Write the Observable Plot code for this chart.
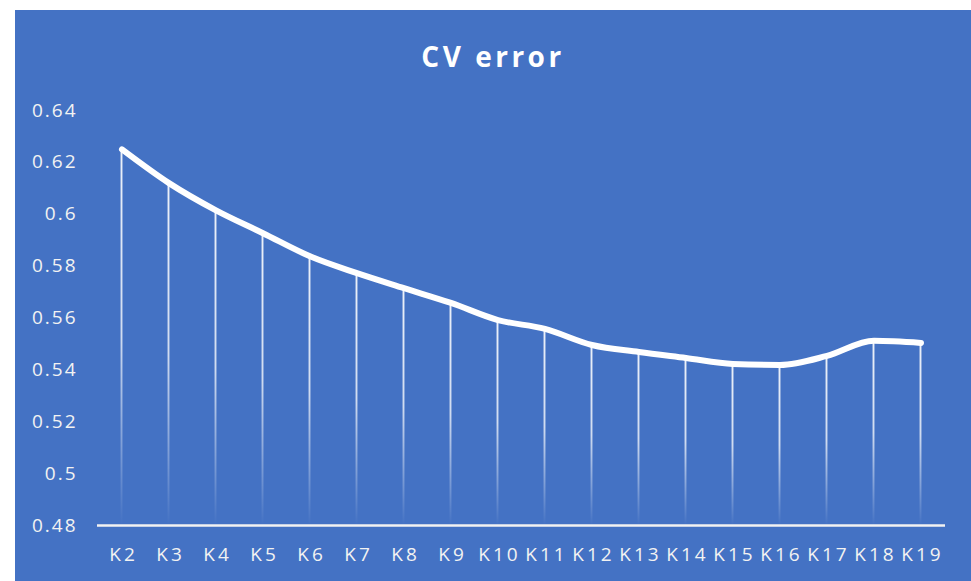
<!DOCTYPE html>
<html>
<head>
<meta charset="utf-8">
<script src="https://cdn.jsdelivr.net/npm/d3@7"></script>
<script src="https://cdn.jsdelivr.net/npm/@observablehq/plot@0.6"></script>
<style>
  html, body { margin: 0; padding: 0; background: #ffffff; }
  #panel { position: absolute; left: 15px; top: 10px; width: 956px; height: 571px; background: #4472C4; overflow: hidden; }
  #title { position: absolute; left: 0; width: 956px; top: 26px; text-align: center; color: #ffffff;
           font-family: "Open Sans", sans-serif; font-weight: 700; font-size: 28px; letter-spacing: 3.5px; line-height: 40px; }
  #chart { position: absolute; left: 0; top: 0; }
</style>
</head>
<body>
<div id="panel">
  <div id="chart"></div>
  <div id="title">CV error</div>
</div>
<script>
const categories = ["K2","K3","K4","K5","K6","K7","K8","K9","K10","K11","K12","K13","K14","K15","K16","K17","K18","K19"];
const cvError = [0.625, 0.612, 0.6015, 0.5927, 0.5838, 0.5773, 0.5715, 0.5658, 0.5592, 0.5558, 0.5496, 0.5469, 0.5446, 0.5423, 0.5419, 0.5454, 0.5512, 0.5504];
const yTicks = [0.48, 0.5, 0.52, 0.54, 0.56, 0.58, 0.6, 0.62, 0.64];
const yMin = 0.48, yMax = 0.64;

const data = categories.map((k, i) => ({k, v: cvError[i]}));

const defs = () => {
  const g = d3.create("svg:defs");
  const lg = g.append("linearGradient").attr("id", "fade")
    .attr("x1", 0).attr("y1", 0).attr("x2", 0).attr("y2", 1);
  lg.append("stop").attr("offset", "0%").attr("stop-color", "#ffffff").attr("stop-opacity", 0.9);
  lg.append("stop").attr("offset", "50%").attr("stop-color", "#ffffff").attr("stop-opacity", 0.75);
  lg.append("stop").attr("offset", "100%").attr("stop-color", "#ffffff").attr("stop-opacity", 0);
  return g.node();
};

const bw = (930 - 82) / categories.length;
const inset = (bw - 2) / 2;

const chart = Plot.plot({
  width: 956,
  height: 571,
  marginLeft: 82,
  marginRight: 26,
  marginTop: 100,
  marginBottom: 56,
  style: { background: "transparent", color: "#f2f2f2", fontFamily: "'Open Sans', sans-serif", fontSize: "19px", overflow: "visible" },
  x: { type: "band", domain: categories, padding: 0, label: null, tickSize: 0, tickPadding: 22 },
  y: { domain: [yMin, yMax], ticks: yTicks, label: null, tickSize: 0, tickPadding: 20,
       tickFormat: d => String(+d.toFixed(2)) },
  marks: [
    defs,
    Plot.barY(data, { x: "k", y1: yMin, y2: "v", fill: "url(#fade)", insetLeft: inset, insetRight: inset }),
    Plot.ruleY([yMin], { stroke: "#f2f2f2", strokeWidth: 2.5 }),
    Plot.line(data, { x: "k", y: "v", stroke: "#ffffff", strokeWidth: 6, curve: "monotone-x", strokeLinecap: "round", strokeLinejoin: "round" })
  ]
});
chart.querySelectorAll("g[aria-label='x-axis tick label'] text").forEach(t => { t.setAttribute("letter-spacing", "3"); t.setAttribute("dx", "1.5"); });
chart.querySelectorAll("g[aria-label='y-axis tick label'] text").forEach(t => t.setAttribute("letter-spacing", "2"));
document.getElementById("chart").appendChild(chart);
</script>
</body>
</html>
